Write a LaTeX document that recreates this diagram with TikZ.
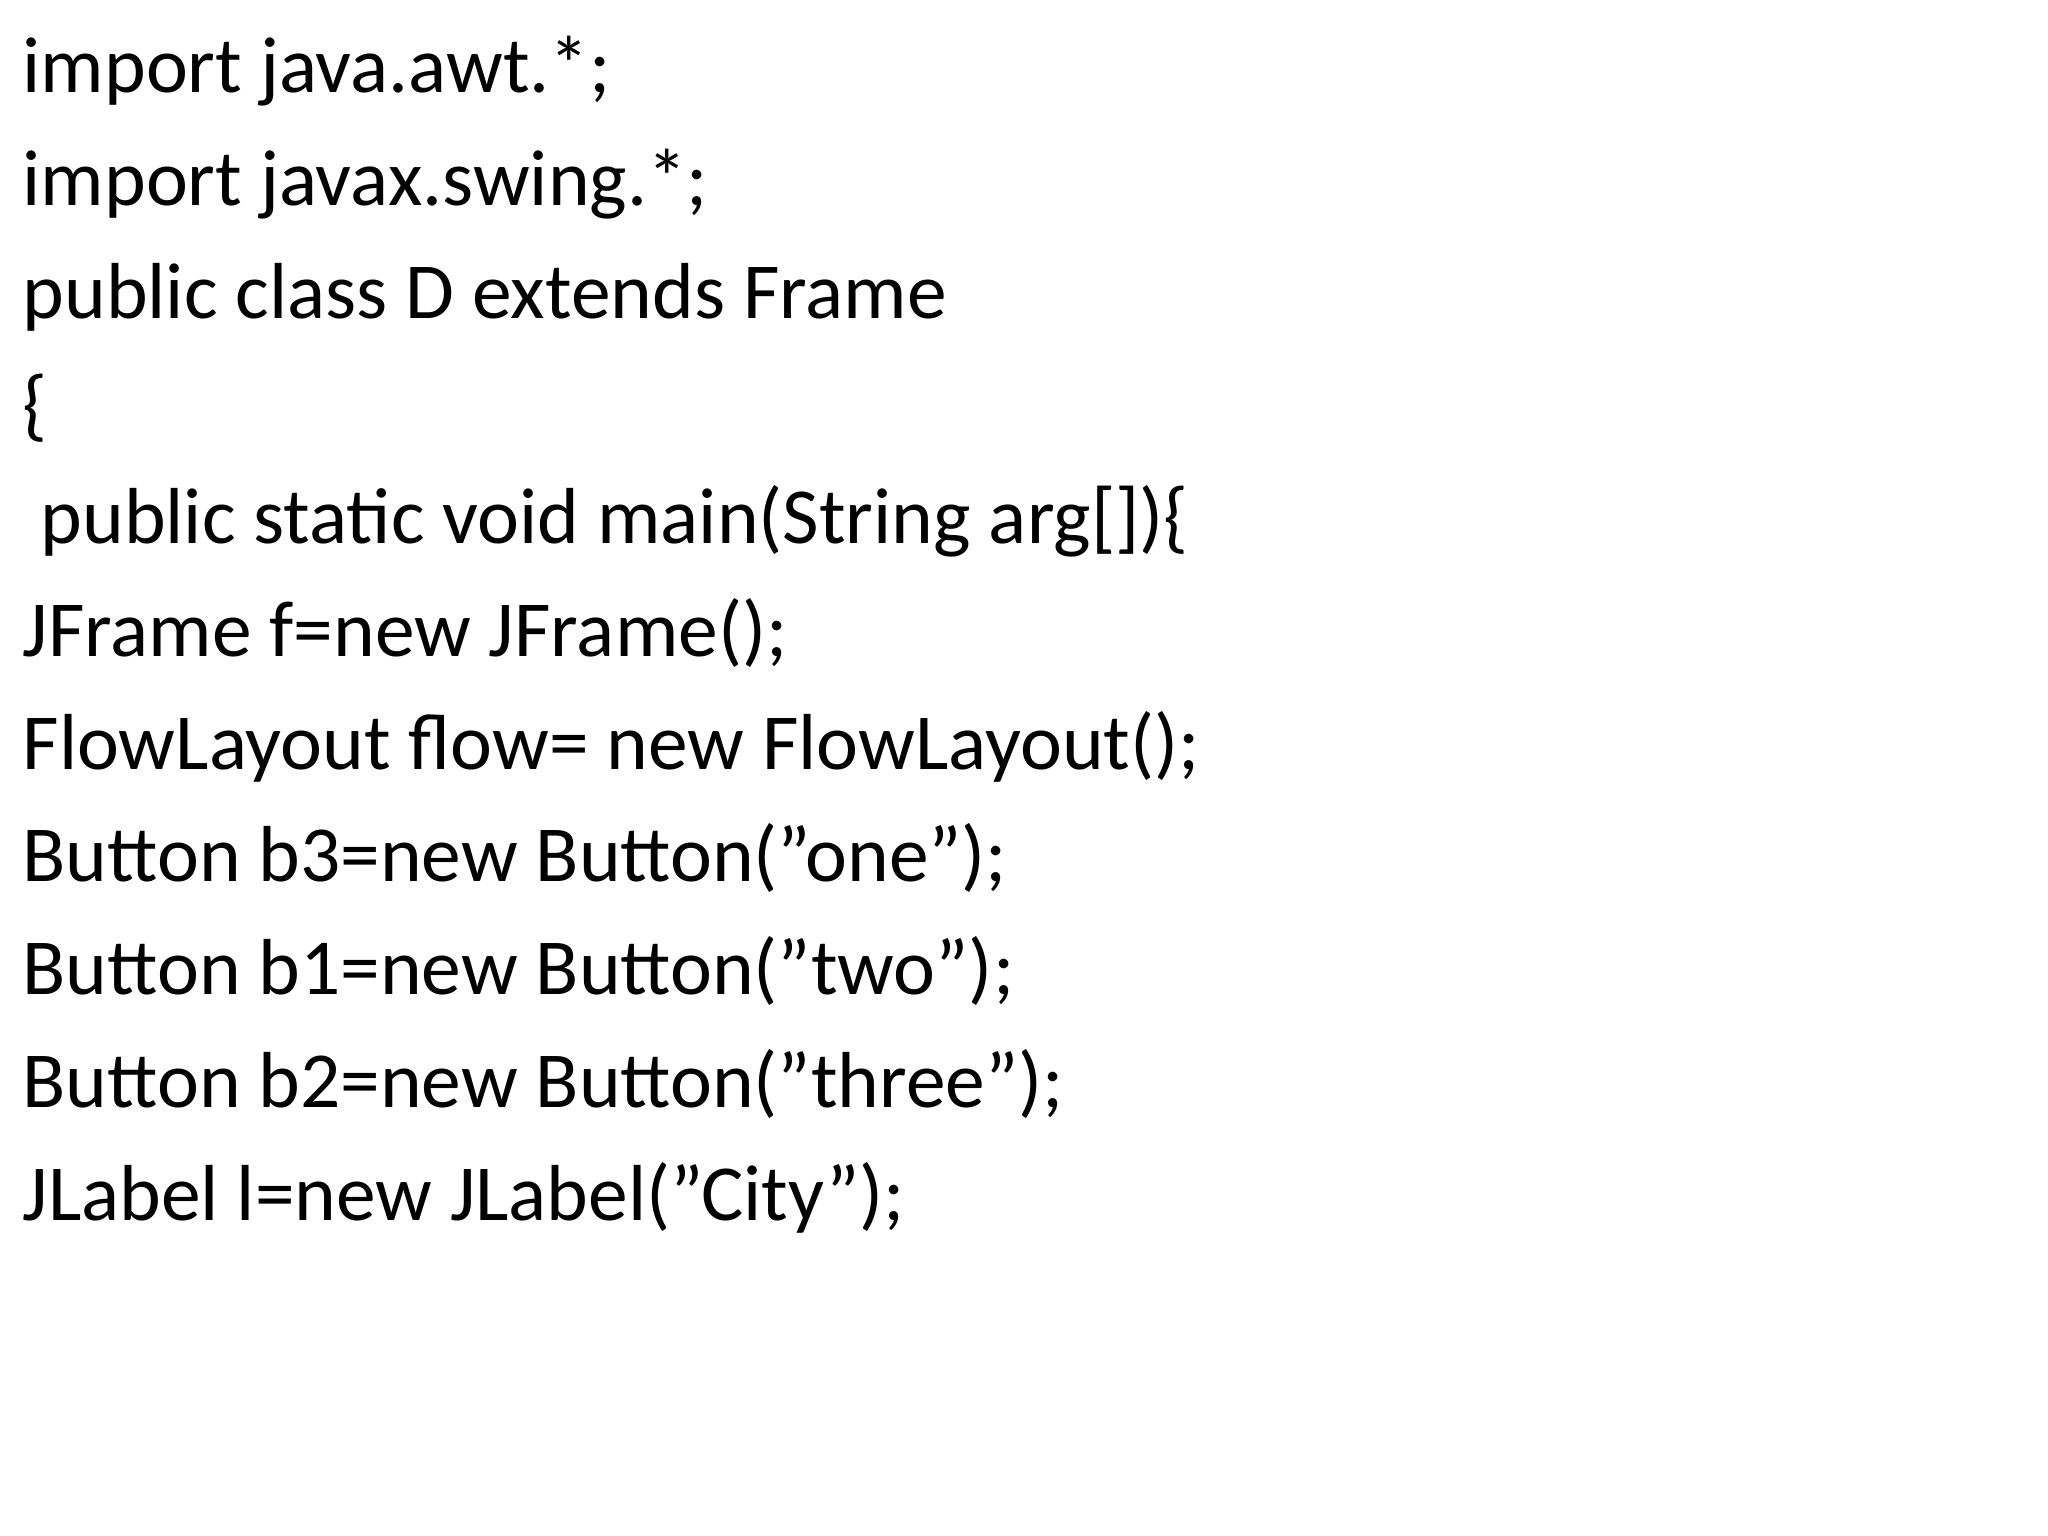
\documentclass[tikz,border=0pt]{standalone}
\usepackage{fontspec}
\setmainfont{Carlito}
\newcommand\qq{\symbol{34}}
\begin{document}
\begin{tikzpicture}[line/.style={anchor=base west,inner sep=0pt,font=\fontsize{22.6}{27}\selectfont}]
\useasboundingbox (0,0) rectangle (20.48,-15.36);
\foreach \t [count=\i] in {{import java.awt.*;},{import javax.swing.*;},{public class D extends Frame},{\{},{\ public static void main(String arg[])\{},{JFrame f=new JFrame();},{FlowLayout flow= new FlowLayout();},{Button b3=new Button(\qq one\qq);},{Button b1=new Button(\qq two\qq);},{Button b2=new Button(\qq three\qq);},{JLabel l=new JLabel(\qq City\qq);}}
  \node[line] (l\i) at (0.22,{-0.93-1.127*(\i-1)}) {\t};
\end{tikzpicture}
\end{document}
